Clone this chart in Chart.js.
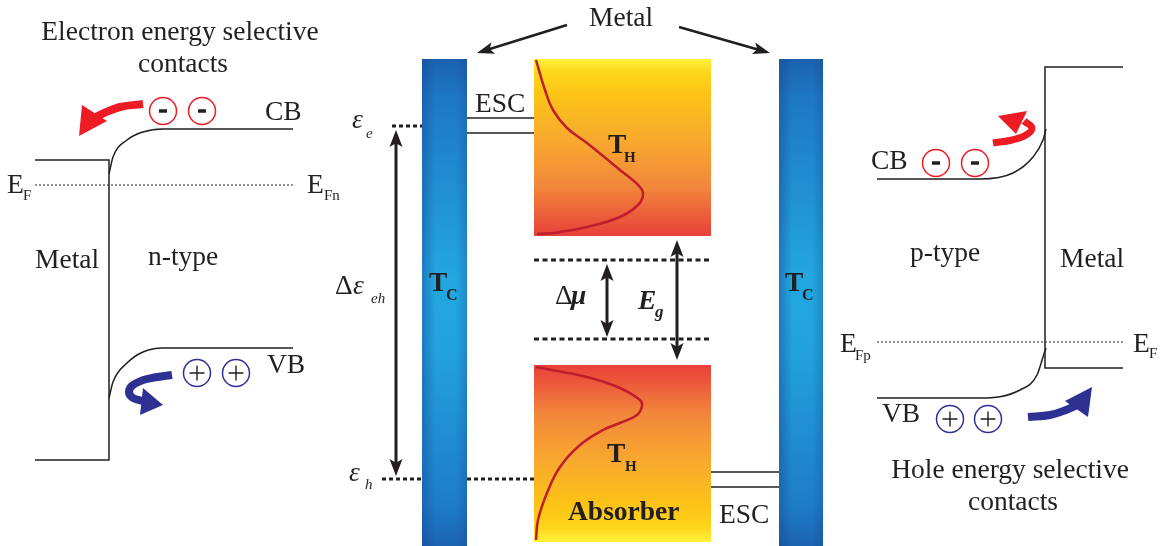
<!DOCTYPE html>
<html>
<head>
<meta charset="utf-8">
<script src="https://cdn.jsdelivr.net/npm/chart.js@4.4.0/dist/chart.umd.min.js"></script>
<style>
  html, body { margin: 0; padding: 0; background: #ffffff; }
  canvas { display: block; }
</style>
</head>
<body>
<canvas id="diagram" width="1164" height="546"></canvas>
<script>
// Diagram coordinates: x runs across the device, y runs downward (higher energy = smaller y).

// ---- n-side (electron selective contact) ----
const leftMetalLevel = [[35,160],[109,160],[109,460],[35,460]];
const leftFermi      = [[35,185],[293,185]];
const leftCB         = [[109,174],[113,157],[127,140],[143,132],[163,129],[293,129]];
const leftVB         = [[109,398],[113,382],[127,363],[143,352],[163,348],[293,348]];

// ---- p-side (hole selective contact) ----
const rightMetalLevel = [[1123,67],[1045,67],[1045,368],[1123,368]];
const rightFermi      = [[877,342],[1125,342]];
const rightCB         = [[877,179],[980,179],[1013,173],[1033,157],[1043,140],[1046,129]];
const rightVB         = [[877,398],[980,398],[1020,390],[1037,375],[1043,357],[1046,348]];

// ---- hot-carrier cell ----
const coldBars     = [[422,59,467,546],[779,59,823,546]];          // metal contacts (x0,y0,x1,y1)
const absorberTop  = [534,59,711,236];                               // electron half
const absorberBot  = [534,365,711,542];                              // hole half
const escUpper     = [[[467,118],[534,118]], [[467,133],[534,133]]];
const escLower     = [[[711,472],[779,472]], [[711,487],[779,487]]];
const levelE       = [[392,126],[422,126]];
const levelH       = [[[382,479],[422,479]], [[467,479],[534,479]]];
const quasiFermi   = [[[534,260],[711,260]], [[534,339],[711,339]]];
const hotElectrons = [[536,60],[545,90],[553,110],[567,128],[587,143],[620,170],[640,187],[643,195],[638,205],[620,217],[587,227],[553,233],[537,234]];
const hotHoles     = [[536,367],[587,377],[620,388],[640,400],[642,406],[637,415],[620,423],[603,430],[580,445],[560,467],[547,493],[538,520],[536,540]];

// double-headed energy arrows: x, upper tip, lower tip
const energyArrows = [[396,130,476],[607,264,337],[677,240,360]];
// pointers from the "Metal" caption: from (x,y) to tip (x,y)
const metalPointers = [[567,25,477,53],[679,27,770,53]];

// carrier transfer arrows: curved band + head (tip, back corner, back corner)
const electronOutBand = [[143,104],[120,107],[102,114],[94,118]];
const electronOutHead = [[79,136],[82,105],[107,121]];
const holeBackBand    = [[172,375],[147,379],[133,385],[129,392],[133,398],[143,401]];
const holeBackHead    = [[163,405],[143,388],[140,415]];
const electronBackBand = [[993,143],[1012,140],[1026,135],[1032,128],[1024,121]];
const electronBackHead = [[998,116],[1027,111],[1016,134]];
const holeOutBand     = [[1028,417],[1050,415],[1066,410],[1077,405]];
const holeOutHead     = [[1092,387],[1065,401],[1088,417]];

// carriers
const electronsLeft  = [[163,111],[202,111]];
const holesLeft      = [[197,373],[236,373]];
const electronsRight = [[936,163],[975,163]];
const holesRight     = [[950,419],[988,419]];

// text: [string, x, y, size, style, align]
const labels = [
  ['Electron energy selective', 180, 40, 27.5, '', 'center'],
  ['contacts', 183, 72, 27.5, '', 'center'],
  ['CB', 265, 120, 27.5, '', 'left'],
  ['E', 7, 193, 27.5, '', 'left'], ['F', 23, 200, 15, '', 'left'],
  ['E', 307, 193, 27.5, '', 'left'], ['Fn', 324, 200, 15, '', 'left'],
  ['Metal', 35, 268, 27.5, '', 'left'],
  ['n-type', 148, 265, 27.5, '', 'left'],
  ['VB', 267, 373, 27.5, '', 'left'],
  ['Metal', 589, 26, 27.5, '', 'left'],
  ['ESC', 475, 112, 27.5, '', 'left'],
  ['\u03B5', 352, 128, 27.5, 'italic', 'left'], ['e', 366, 138, 15, 'italic', 'left'],
  ['T', 608, 153, 27.5, 'bold', 'left'], ['H', 624, 162, 15, 'bold', 'left'],
  ['\u0394', 335, 294, 27.5, '', 'left'], ['\u03B5', 353, 294, 27.5, 'italic', 'left'], ['eh', 371, 303, 15, 'italic', 'left'],
  ['T', 429, 291, 27.5, 'bold', 'left'], ['C', 446, 300, 16, 'bold', 'left'],
  ['T', 785, 291, 27.5, 'bold', 'left'], ['C', 802, 300, 16, 'bold', 'left'],
  ['\u0394', 555, 304, 27.5, '', 'left'], ['\u03BC', 571, 304, 27.5, 'italic bold', 'left'],
  ['E', 638, 309, 27.5, 'italic bold', 'left'], ['g', 655, 317, 17, 'italic bold', 'left'],
  ['T', 607, 462, 27.5, 'bold', 'left'], ['H', 625, 471, 15, 'bold', 'left'],
  ['Absorber', 568, 520, 27.5, 'bold', 'left'],
  ['ESC', 719, 523, 27.5, '', 'left'],
  ['\u03B5', 349, 481, 27.5, 'italic', 'left'], ['h', 365, 489, 15, 'italic', 'left'],
  ['CB', 871, 169, 27.5, '', 'left'],
  ['p-type', 910, 261, 27.5, '', 'left'],
  ['Metal', 1060, 267, 27.5, '', 'left'],
  ['E', 840, 352, 27.5, '', 'left'], ['Fp', 855, 360, 15, '', 'left'],
  ['E', 1133, 352, 27.5, '', 'left'], ['F', 1149, 358, 15, '', 'left'],
  ['VB', 882, 422, 27.5, '', 'left'],
  ['Hole energy selective', 1010, 478, 27.5, '', 'center'],
  ['contacts', 1013, 510, 27.5, '', 'center']
];

const INK = '#231f20';
const RED = '#ed1c24';
const BLUE = '#2e3192';
const CURVE = '#be1e2d';
const SERIF = '"Liberation Serif", "Times New Roman", serif';

const pts = arr => arr.map(([x, y]) => ({ x, y }));
function path(points, opts) {
  return Object.assign({
    data: pts(points), showLine: true, pointRadius: 0, borderColor: INK,
    borderWidth: 1.5, fill: false, tension: 0, borderCapStyle: 'butt'
  }, opts || {});
}
function carriers(points, color) {
  return {
    data: pts(points), showLine: false, pointStyle: 'circle', pointRadius: 13.5,
    pointBorderWidth: 1.5, pointBorderColor: color, pointBackgroundColor: 'rgba(0,0,0,0)'
  };
}
function signs(points, style, radius, width) {
  return {
    data: pts(points), showLine: false, pointStyle: style, pointRadius: radius,
    pointBorderWidth: width, pointBorderColor: INK, pointBackgroundColor: INK
  };
}

const datasets = [
  path(leftMetalLevel),
  path(leftFermi, { borderWidth: 1, borderDash: [2, 2] }),
  path(leftCB, { cubicInterpolationMode: 'monotone' }),
  path(leftVB, { cubicInterpolationMode: 'monotone' }),
  path(rightMetalLevel),
  path(rightFermi, { borderWidth: 1, borderDash: [2, 2] }),
  path(rightCB, { cubicInterpolationMode: 'monotone' }),
  path(rightVB, { cubicInterpolationMode: 'monotone' }),
  ...escUpper.map(s => path(s)),
  ...escLower.map(s => path(s)),
  path(levelE, { borderWidth: 3, borderDash: [4, 3] }),
  ...levelH.map(s => path(s, { borderWidth: 3, borderDash: [4, 3] })),
  ...quasiFermi.map(s => path(s, { borderWidth: 3, borderDash: [5, 3.5] })),
  path(hotElectrons, { borderColor: CURVE, borderWidth: 2.5, tension: 0.4 }),
  path(hotHoles, { borderColor: CURVE, borderWidth: 2.5, tension: 0.4 }),
  path(electronOutBand, { borderColor: RED, borderWidth: 8, tension: 0.4 }),
  path(holeBackBand, { borderColor: BLUE, borderWidth: 8, tension: 0.4 }),
  path(electronBackBand, { borderColor: RED, borderWidth: 7, tension: 0.4 }),
  path(holeOutBand, { borderColor: BLUE, borderWidth: 8, tension: 0.4 }),
  carriers(electronsLeft, RED), carriers(electronsRight, RED),
  carriers(holesLeft, BLUE), carriers(holesRight, BLUE),
  signs(electronsLeft, 'line', 4, 3.5), signs(electronsRight, 'line', 4, 3.5),
  signs(holesLeft, 'cross', 7.5, 1.4), signs(holesRight, 'cross', 7.5, 1.4)
];

function px(chart, x, y) {
  return [chart.scales.x.getPixelForValue(x), chart.scales.y.getPixelForValue(y)];
}

// filled, slightly notched arrow head pointing from (fx,fy) toward tip (tx,ty)
function arrowHead(ctx, fx, fy, tx, ty, len, half) {
  const dx = tx - fx, dy = ty - fy, d = Math.hypot(dx, dy);
  const ux = dx / d, uy = dy / d, nx = -uy, ny = ux;
  const bx = tx - ux * len, by = ty - uy * len;
  ctx.beginPath();
  ctx.moveTo(tx, ty);
  ctx.lineTo(bx + nx * half, by + ny * half);
  ctx.lineTo(tx - ux * len * 0.78, ty - uy * len * 0.78);
  ctx.lineTo(bx - nx * half, by - ny * half);
  ctx.closePath();
  ctx.fill();
}

const shapesPlugin = {
  id: 'deviceShapes',
  beforeDatasetsDraw(chart) {
    const ctx = chart.ctx;
    ctx.save();
    // cold metal contacts
    coldBars.forEach(([a, b, c, d]) => {
      const [x0, y0] = px(chart, a, b), [x1, y1] = px(chart, c, d);
      const v = ctx.createLinearGradient(0, y0, 0, y1);
      v.addColorStop(0, '#1a62ae');
      v.addColorStop(0.08, '#1e78c3');
      v.addColorStop(0.45, '#23a7e0');
      v.addColorStop(0.6, '#22a2dd');
      v.addColorStop(0.92, '#1e7cc6');
      v.addColorStop(1, '#1b63b0');
      ctx.fillStyle = v;
      ctx.fillRect(x0, y0, x1 - x0, y1 - y0);
      const h = ctx.createLinearGradient(x0, 0, x1, 0);
      h.addColorStop(0, 'rgba(22,70,150,0.45)');
      h.addColorStop(0.3, 'rgba(22,70,150,0)');
      h.addColorStop(0.75, 'rgba(22,70,150,0)');
      h.addColorStop(1, 'rgba(22,70,150,0.3)');
      ctx.fillStyle = h;
      ctx.fillRect(x0, y0, x1 - x0, y1 - y0);
    });
    // hot absorber halves
    const hotStops = [[0, '#fff23a'], [0.08, '#fed51b'], [0.2, '#fcc416'], [0.45, '#f8aa2e'], [0.72, '#f2873b'], [1, '#e8403a']];
    [[absorberTop, false], [absorberBot, true]].forEach(([r, flip]) => {
      const [x0, y0] = px(chart, r[0], r[1]), [x1, y1] = px(chart, r[2], r[3]);
      const g = flip ? ctx.createLinearGradient(0, y1, 0, y0) : ctx.createLinearGradient(0, y0, 0, y1);
      hotStops.forEach(([o, c]) => g.addColorStop(o, c));
      ctx.fillStyle = g;
      ctx.fillRect(x0, y0, x1 - x0, y1 - y0);
    });
    ctx.restore();
  },
  afterDatasetsDraw(chart) {
    const ctx = chart.ctx;
    ctx.save();
    // curved transfer arrow heads
    [[electronOutHead, RED], [holeBackHead, BLUE], [electronBackHead, RED], [holeOutHead, BLUE]].forEach(([hd, col]) => {
      ctx.fillStyle = col;
      ctx.beginPath();
      hd.forEach(([x, y], i) => {
        const [X, Y] = px(chart, x, y);
        if (i === 0) ctx.moveTo(X, Y); else ctx.lineTo(X, Y);
      });
      ctx.closePath();
      ctx.fill();
    });
    // energy arrows
    ctx.strokeStyle = INK;
    ctx.fillStyle = INK;
    energyArrows.forEach(([x, ya, yb]) => {
      const [X, Ya] = px(chart, x, ya), [, Yb] = px(chart, x, yb);
      ctx.lineWidth = 3;
      ctx.beginPath();
      ctx.moveTo(X, Ya + 10);
      ctx.lineTo(X, Yb - 10);
      ctx.stroke();
      arrowHead(ctx, X, Yb, X, Ya, 17, 6.5);
      arrowHead(ctx, X, Ya, X, Yb, 17, 6.5);
    });
    // pointers from the Metal caption
    metalPointers.forEach(([a, b, c, d]) => {
      const [X0, Y0] = px(chart, a, b), [X1, Y1] = px(chart, c, d);
      const dx = X1 - X0, dy = Y1 - Y0, L = Math.hypot(dx, dy);
      ctx.lineWidth = 2.6;
      ctx.beginPath();
      ctx.moveTo(X0, Y0);
      ctx.lineTo(X1 - dx / L * 10, Y1 - dy / L * 10);
      ctx.stroke();
      arrowHead(ctx, X0, Y0, X1, Y1, 17, 6);
    });
    // text
    ctx.fillStyle = INK;
    ctx.textBaseline = 'alphabetic';
    labels.forEach(([t, x, y, size, style, align]) => {
      const [X, Y] = px(chart, x, y);
      ctx.font = `${style} ${size}px ${SERIF}`.trim();
      ctx.textAlign = align;
      ctx.fillText(t, X, Y);
    });
    ctx.restore();
  }
};

new Chart(document.getElementById('diagram'), {
  type: 'scatter',
  data: { datasets },
  options: {
    responsive: false,
    animation: false,
    devicePixelRatio: 1,
    events: [],
    layout: { padding: 0, autoPadding: false },
    plugins: { legend: { display: false }, tooltip: { enabled: false } },
    scales: {
      x: { type: 'linear', min: 0, max: 1164, display: false },
      y: { type: 'linear', min: 0, max: 546, reverse: true, display: false }
    }
  },
  plugins: [shapesPlugin]
});
</script>
</body>
</html>
